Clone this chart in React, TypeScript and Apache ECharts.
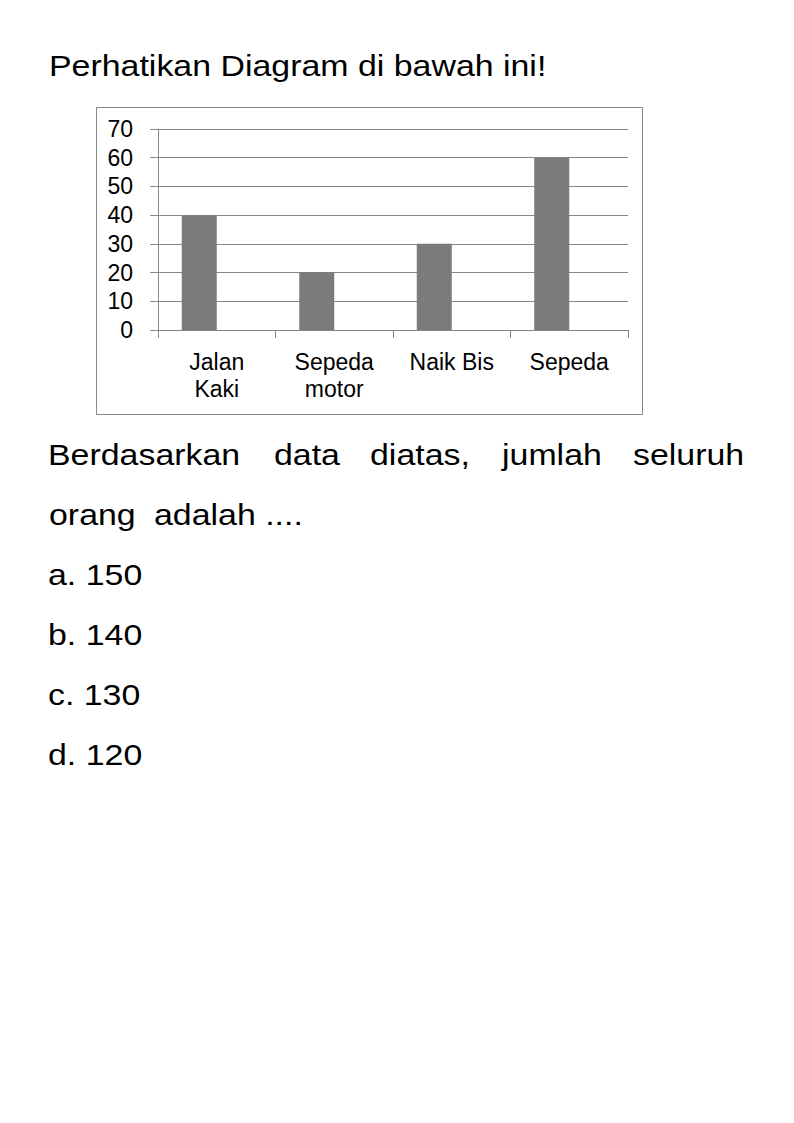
import React, { useEffect, useRef } from "react";
import * as echarts from "echarts";

// ---- data ----
const categories = ["Jalan\nKaki", "Sepeda\nmotor", "Naik Bis", "Sepeda"];
const values = [40, 20, 30, 60];
const yMin = 0;
const yMax = 70;
const yInterval = 10;

const title = "Perhatikan Diagram di bawah ini!";
const questionLine1 = ["Berdasarkan", "data", "diatas,", "jumlah", "seluruh"];
const questionLine1X = [48, 274, 370, 502, 633];
const questionLine2 = ["orang", "adalah ...."];
const questionLine2X = [49, 154];
const answers = ["a. 150", "b. 140", "c. 130", "d. 120"];

// ---- styles ----
const FONT_FAMILY = '"Liberation Sans", Arial, sans-serif';
const TEXT_FONT = `30px ${FONT_FAMILY}`;
const SX = 1.13;
const LINE_COLOR = "#878787";
const BAR_COLOR = "#7b7b7b";

function txt(text: string, x: number, y: number) {
  return {
    type: "text",
    x,
    y,
    scaleX: SX,
    style: {
      text,
      x: 0,
      y: 0,
      font: TEXT_FONT,
      fill: "#000",
      align: "left",
      verticalAlign: "middle",
    },
  };
}

export default function App() {
  const ref = useRef<HTMLDivElement>(null);

  useEffect(() => {
    if (!ref.current) return;
    const chart = echarts.init(ref.current, undefined, { renderer: "svg" });

    const graphics: any[] = [];
    graphics.push({
      type: "rect",
      z: -1,
      shape: { x: 96.5, y: 107.5, width: 546, height: 307 },
      style: { fill: "none", stroke: LINE_COLOR, lineWidth: 1 },
    });
    graphics.push(txt(title, 49, 65.3));
    questionLine1.forEach((w, i) => graphics.push(txt(w, questionLine1X[i], 454.6)));
    questionLine2.forEach((w, i) => graphics.push(txt(w, questionLine2X[i], 514.6)));
    answers.forEach((a, i) => graphics.push(txt(a, 48, 574.6 + i * 60)));

    chart.setOption({
      animation: false,
      backgroundColor: "#fff",
      grid: { left: 158, top: 129, right: 166, bottom: 793, containLabel: false },
      xAxis: {
        type: "category",
        data: categories,
        boundaryGap: true,
        axisLine: { show: true, lineStyle: { color: LINE_COLOR, width: 1 } },
        axisTick: { show: true, length: 8, alignWithLabel: false, lineStyle: { color: LINE_COLOR } },
        axisLabel: {
          color: "#000",
          fontSize: 23,
          fontFamily: FONT_FAMILY,
          lineHeight: 27,
          margin: 18,
          interval: 0,
        },
        splitLine: { show: false },
      },
      yAxis: {
        type: "value",
        min: yMin,
        max: yMax,
        interval: yInterval,
        axisLine: { show: true, lineStyle: { color: LINE_COLOR, width: 1 } },
        axisTick: { show: true, length: 8, lineStyle: { color: LINE_COLOR } },
        axisLabel: {
          color: "#000",
          fontSize: 23,
          fontFamily: FONT_FAMILY,
          margin: 25,
        },
        splitLine: { show: true, lineStyle: { color: LINE_COLOR, width: 1 } },
      },
      series: [
        {
          type: "bar",
          name: "Jumlah",
          data: values,
          barWidth: 35,
          barGap: "0%",
          itemStyle: { color: BAR_COLOR },
        },
        {
          // empty second series slot (as in the original spreadsheet chart)
          type: "bar",
          name: "",
          data: [],
          barWidth: 35,
          barGap: "0%",
          itemStyle: { color: BAR_COLOR },
        },
      ],
      graphic: graphics,
    });

    return () => chart.dispose();
  }, []);

  return (
    <div
      ref={ref}
      style={{ position: "absolute", left: 0, top: 0, width: 794, height: 1123 }}
    />
  );
}
